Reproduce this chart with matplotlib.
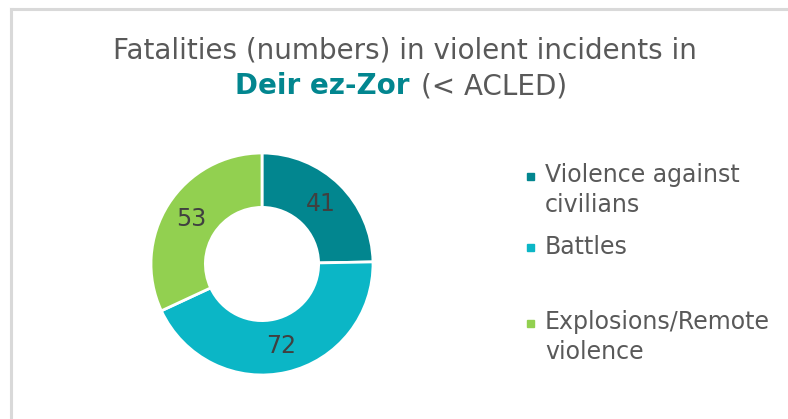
import matplotlib

matplotlib.use("Agg")
import matplotlib.pyplot as plt
from matplotlib.lines import Line2D
from matplotlib.patches import Rectangle

# data
categories = ["Violence against\ncivilians", "Battles", "Explosions/Remote\nviolence"]
fatalities = [41, 72, 53]
colors = ["#02868f", "#0bb6c6", "#92d050"]
total = sum(fatalities)

W, H = 788, 419
fig = plt.figure(figsize=(W / 100, H / 100), dpi=100)
fig.patch.set_facecolor("white")

# frame (left + top only, the rest is cropped in the reference)
fig.add_artist(Line2D([11 / W, 11 / W], [0, 1 - 9 / H], color="#d9d9d9", linewidth=2.2))
fig.add_artist(Line2D([11 / W, 1], [1 - 9 / H, 1 - 9 / H], color="#d9d9d9", linewidth=2.2))

# donut
cx, cy, r = 262, 264, 111
ax = fig.add_axes([(cx - r) / W, (H - cy - r) / H, 2 * r / W, 2 * r / H])
wedges, _, autotexts = ax.pie(
    fatalities,
    colors=colors,
    startangle=90,
    counterclock=False,
    radius=1.0,
    autopct=lambda p: f"{round(p * total / 100):d}",
    pctdistance=0.755,
    wedgeprops=dict(width=0.49, edgecolor="white", linewidth=2),
    textprops=dict(color="#404040", fontsize=17),
)
ax.set_xlim(-1.0, 1.0)
ax.set_ylim(-1.0, 1.0)
ax.set_aspect("equal")
ax.axis("off")

# title
fig.text(405 / W, 1 - 50 / H, "Fatalities (numbers) in violent incidents in",
         ha="center", va="center", fontsize=20, color="#595959")
fig.text(410 / W, 1 - 86 / H, "Deir ez-Zor", ha="right", va="center",
         fontsize=20, color="#02868f", fontweight="bold")
fig.text(421 / W, 1 - 86 / H, "(< ACLED)", ha="left", va="center",
         fontsize=20, color="#595959")

# legend drawn by hand so the marker sits on the first line of each entry
legend_y = [176, 248, 323]
for label, color, y in zip(categories, colors, legend_y):
    fig.add_artist(Rectangle((527 / W, 1 - (y + 3.5) / H), 7 / W, 7 / H,
                             transform=fig.transFigure, color=color))
    fig.text(545 / W, 1 - (y - 13) / H, label, ha="left", va="top",
             fontsize=17, color="#595959", linespacing=1.3)

fig.savefig("out.png", dpi=100)
